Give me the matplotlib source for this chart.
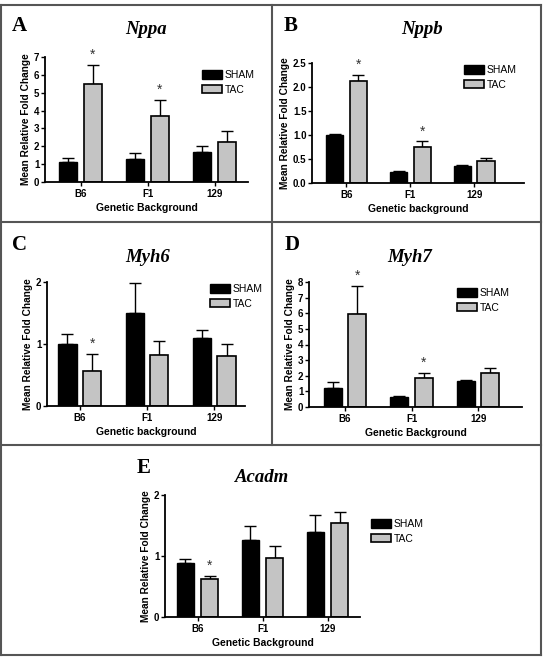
import matplotlib
matplotlib.use('Agg')
import matplotlib.pyplot as plt
import numpy as np
from matplotlib.patches import Patch
from matplotlib.lines import Line2D

plt.rcParams['font.family'] = ['Liberation Sans', 'DejaVu Sans']

groups = ['B6', 'F1', '129']

nppa_sham = [1.10, 1.28, 1.70]
nppa_sham_err = [0.23, 0.32, 0.30]
nppa_tac = [5.48, 3.68, 2.22]
nppa_tac_err = [1.07, 0.92, 0.65]

nppb_sham = [1.00, 0.23, 0.35]
nppb_sham_err = [0.03, 0.01, 0.02]
nppb_tac = [2.13, 0.76, 0.46]
nppb_tac_err = [0.12, 0.11, 0.06]

myh6_sham = [1.00, 1.50, 1.10]
myh6_sham_err = [0.16, 0.48, 0.12]
myh6_tac = [0.57, 0.83, 0.81]
myh6_tac_err = [0.27, 0.22, 0.19]

myh7_sham = [1.22, 0.67, 1.67]
myh7_sham_err = [0.35, 0.05, 0.08]
myh7_tac = [5.97, 1.88, 2.15]
myh7_tac_err = [1.78, 0.32, 0.37]

acadm_sham = [0.89, 1.27, 1.40]
acadm_sham_err = [0.06, 0.22, 0.27]
acadm_tac = [0.62, 0.97, 1.54]
acadm_tac_err = [0.06, 0.20, 0.18]

W, H = 543, 657
fig = plt.figure(figsize=(W / 100, H / 100), dpi=100)

def fx(px):
    return px / W

def fy(py):
    return 1 - py / H

# per panel: data, stars, y range, axes box in px (left, right, baseline, top), text positions in px
panels = [
    dict(letter='A', gene='Nppa', sham=nppa_sham, sham_err=nppa_sham_err, tac=nppa_tac, tac_err=nppa_tac_err,
         stars=[0, 1], ymax=7, yticks=np.arange(0, 8, 1), fmt='%d', xlabel='Genetic Background',
         box=(45, 248, 182, 57), xlim=(-0.53, 2.5), let=(12, 26), tit=(146, 30), leg=(202, 74)),
    dict(letter='B', gene='Nppb', sham=nppb_sham, sham_err=nppb_sham_err, tac=nppb_tac, tac_err=nppb_tac_err,
         stars=[0, 1], ymax=2.5, yticks=np.arange(0, 2.6, 0.5), fmt='%.1f', xlabel='Genetic background',
         box=(312, 524, 183, 63), xlim=(-0.54, 2.78), let=(284, 26), tit=(422, 30), leg=(464, 69)),
    dict(letter='C', gene='Myh6', sham=myh6_sham, sham_err=myh6_sham_err, tac=myh6_tac, tac_err=myh6_tac_err,
         stars=[0], ymax=2, yticks=[0, 1, 2], fmt='%d', xlabel='Genetic background',
         box=(47, 245, 406, 282), xlim=(-0.49, 2.46), let=(12, 245), tit=(148, 258), leg=(210, 288)),
    dict(letter='D', gene='Myh7', sham=myh7_sham, sham_err=myh7_sham_err, tac=myh7_tac, tac_err=myh7_tac_err,
         stars=[0, 1], ymax=8, yticks=np.arange(0, 9, 1), fmt='%d', xlabel='Genetic Background',
         box=(309, 522, 407, 282), xlim=(-0.54, 2.66), let=(285, 245), tit=(410, 258), leg=(457, 292)),
    dict(letter='E', gene='Acadm', sham=acadm_sham, sham_err=acadm_sham_err, tac=acadm_tac, tac_err=acadm_tac_err,
         stars=[0], ymax=2, yticks=[0, 1, 2], fmt='%d', xlabel='Genetic Background',
         box=(165, 360, 617, 495), xlim=(-0.5, 2.5), let=(137, 468), tit=(262, 478), leg=(371, 523)),
]

x = np.arange(len(groups))
bw = 0.27
off = 0.185
gray = '#c4c4c4'

for p in panels:
    l, r, b, t = p['box']
    ax = fig.add_axes([fx(l), fy(b), fx(r) - fx(l), fy(t) - fy(b)])
    ax.bar(x - off, p['sham'], bw, color='black', edgecolor='black', linewidth=1, zorder=2)
    ax.bar(x + off, p['tac'], bw, color=gray, edgecolor='black', linewidth=1.2, zorder=2)
    ax.errorbar(x - off, p['sham'], yerr=[np.zeros(3), p['sham_err']], fmt='none',
                ecolor='black', elinewidth=1, capsize=4.5, capthick=1, zorder=1)
    ax.errorbar(x + off, p['tac'], yerr=[np.zeros(3), p['tac_err']], fmt='none',
                ecolor='black', elinewidth=1, capsize=4.5, capthick=1, zorder=1)
    for i in p['stars']:
        top = p['tac'][i] + p['tac_err'][i]
        ax.annotate('*', (x[i] + off, top), xytext=(0, 2), textcoords='offset points',
                    ha='center', va='bottom', fontsize=10, color='#333333')
    ax.set_xlim(*p['xlim'])
    ax.set_ylim(0, p['ymax'])
    ax.set_yticks(p['yticks'])
    ax.set_yticklabels([p['fmt'] % v for v in p['yticks']])
    ax.set_xticks(x)
    ax.set_xticklabels(groups)
    for lab in ax.get_xticklabels() + ax.get_yticklabels():
        lab.set_fontweight('bold')
        lab.set_fontsize(7)
    ax.tick_params(axis='y', length=3, width=1, pad=1)
    ax.tick_params(axis='x', length=3, width=1, pad=2)
    ax.spines['top'].set_visible(False)
    ax.spines['right'].set_visible(False)
    ax.spines['left'].set_linewidth(1.3)
    ax.spines['bottom'].set_linewidth(1.3)
    ax.set_ylabel('Mean Relative Fold Change', fontsize=7.3, fontweight='bold', labelpad=2)
    ax.set_xlabel(p['xlabel'], fontsize=7.5, fontweight='bold', labelpad=3)

    fig.text(fx(p['let'][0]), fy(p['let'][1]), p['letter'], fontsize=15, fontweight='bold',
             family='Liberation Serif', ha='left', va='center')
    fig.text(fx(p['tit'][0]), fy(p['tit'][1]), p['gene'], fontsize=13.5, fontweight='bold',
             style='italic', family='Liberation Serif', ha='center', va='center')
    handles = [Patch(facecolor='black', edgecolor='black', label='SHAM'),
               Patch(facecolor=gray, edgecolor='black', linewidth=1.2, label='TAC')]
    lx, ly = p['leg']
    fig.legend(handles=handles, loc='upper left', bbox_to_anchor=(fx(lx), fy(ly - 4)),
               frameon=False, fontsize=7.5, handlelength=1.9, handleheight=0.9,
               handletextpad=0.25, labelspacing=0.45, borderpad=0, borderaxespad=0)

# panel frame lines
lc = '#555555'
frame = [((1, 541), (5, 5)), ((1, 541), (655, 655)), ((1, 1), (5, 655)), ((541, 541), (5, 655)),
         ((1, 541), (222, 222)), ((1, 541), (445, 445)), ((272, 272), (5, 445))]
for xs, ys in frame:
    fig.add_artist(Line2D([fx(v) for v in xs], [fy(v) for v in ys], color=lc, linewidth=1.5))

fig.savefig('out.png', dpi=100)
